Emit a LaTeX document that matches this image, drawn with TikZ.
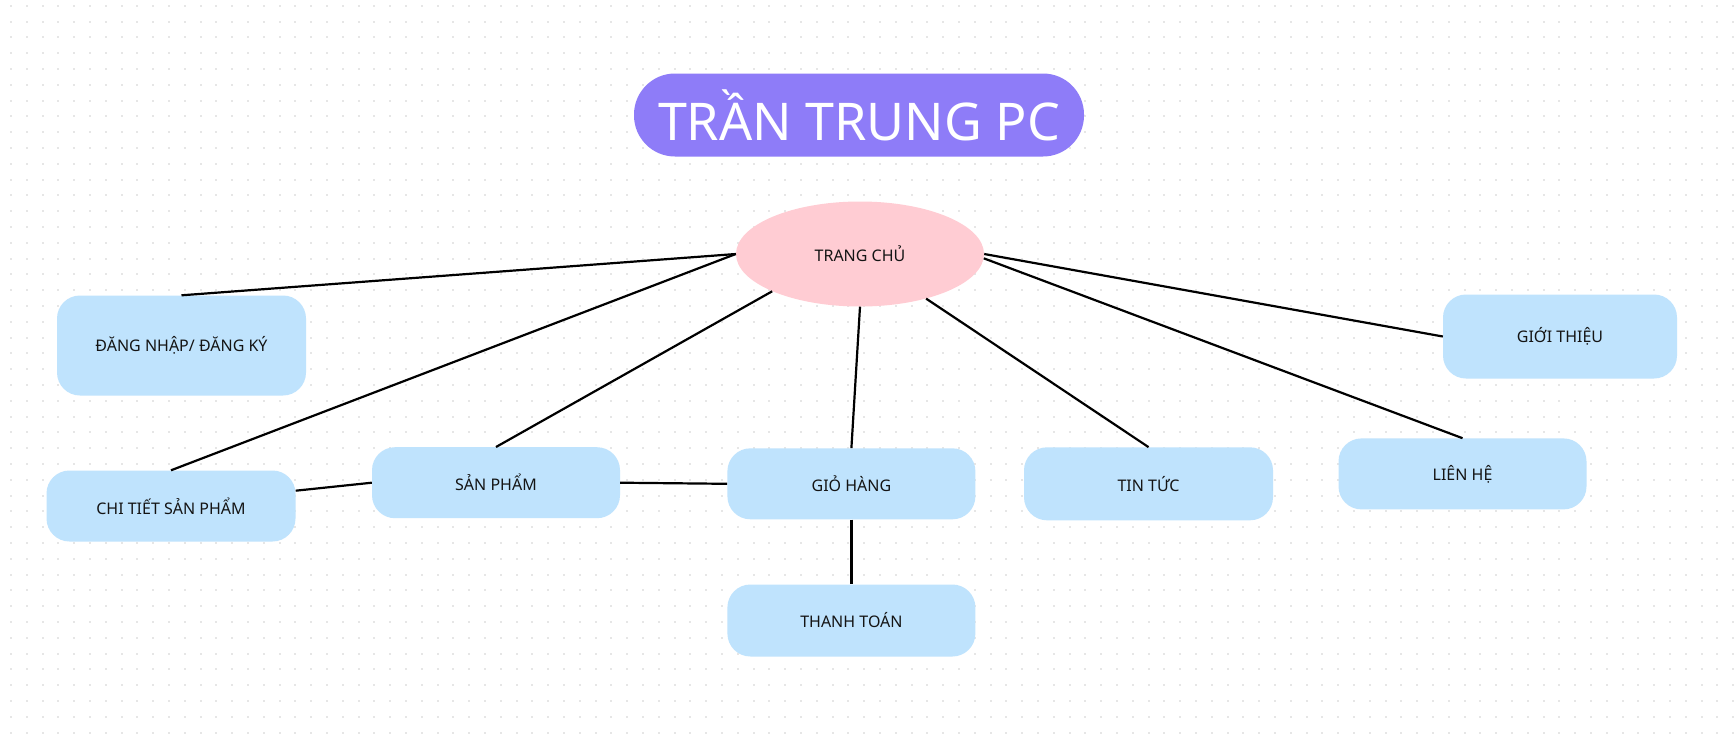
\documentclass[tikz,border=0pt]{standalone}
\usepackage{fontspec}
\setmainfont{Noto Sans}
\usetikzlibrary{shapes.geometric}
\definecolor{boxblue}{RGB}{191,227,253}
\definecolor{homepink}{RGB}{255,204,211}
\definecolor{titlepurple}{RGB}{142,124,248}
\definecolor{dotgrey}{RGB}{230,230,230}
\definecolor{labelink}{RGB}{20,20,20}
\tikzset{
  pagebox/.style={rectangle, rounded corners=23pt, fill=boxblue, draw=none,
    inner sep=0pt, minimum width=248pt, minimum height=71pt,
    text=labelink, font=\fontsize{16}{19}\selectfont},
  homenode/.style={ellipse, fill=homepink, draw=none, inner sep=0pt,
    minimum width=248pt, minimum height=105pt,
    text=labelink, font=\fontsize{16}{19}\selectfont},
  titlebox/.style={rectangle, rounded corners=41pt, fill=titlepurple, draw=none,
    inner sep=0pt, minimum width=450pt, minimum height=83pt,
    text=white, font=\fontsize{52}{60}\selectfont},
  link/.style={draw=black, line width=2.2pt}
}
\begin{document}
\begin{tikzpicture}[x=1pt, y=-1pt]
  \useasboundingbox (0,0) rectangle (1736,742);
  \fill[white] (0,0) rectangle (1736,742);
  % dotted canvas
  \foreach \i in {0,...,109} {
    \foreach \j in {0,...,46} {
      \fill[dotgrey] ({11+15.8*\i-1},{5.7+15.8*\j-1}) rectangle ++(2,2);
    }
  }

  \node[titlebox] (title) at (859,115) {TRẦN TRUNG PC};
  \node[homenode] (home) at (860,254) {TRANG CHỦ};

  \node[pagebox, minimum height=100pt, minimum width=249pt] (login) at (181.5,345.5) {ĐĂNG NHẬP/ ĐĂNG KÝ};
  \node[pagebox, minimum width=234pt, minimum height=84pt] (about) at (1560,336.5) {GIỚI THIỆU};
  \node[pagebox, minimum width=249pt] (detail) at (171,506) {CHI TIẾT SẢN PHẨM};
  \node[pagebox] (products) at (496,482.7) {SẢN PHẨM};
  \node[pagebox] (cart) at (851.4,483.8) {GIỎ HÀNG};
  \node[pagebox, minimum width=249pt, minimum height=73pt] (news) at (1148.5,483.8) {TIN TỨC};
  \node[pagebox] (contact) at (1462.5,473.9) {LIÊN HỆ};
  \node[pagebox, minimum height=72pt] (pay) at (851.4,620.5) {THANH TOÁN};

  % connectors
  \draw[link] (login.north) -- (home.west);
  \draw[link] (detail.north) -- (home.west);
  \draw[link] (products.north) -- (home.203);
  \draw[link] (cart.north) -- (home.south);
  \draw[link] (news.north) -- (home.-34);
  \draw[link] (contact.north) -- (home.-2);
  \draw[link] (about.west) -- (home.east);
  \draw[link] (detail.7) -- (products.west);
  \draw[link] (products.east) -- (cart.west);
  \draw[link] (cart.south) -- (pay.north);
\end{tikzpicture}
\end{document}
